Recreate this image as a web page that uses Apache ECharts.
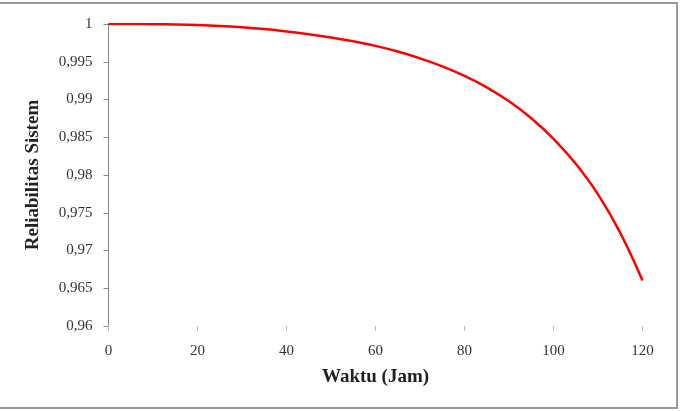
<!DOCTYPE html>
<html>
<head>
<meta charset="utf-8">
<script src="https://cdn.jsdelivr.net/npm/echarts@6/dist/echarts.min.js"></script>
<style>
  html, body { margin: 0; padding: 0; background: #fff; }
  #chart { width: 683px; height: 411px; }
</style>
</head>
<body>
<div id="chart"></div>
<script>
// waktu (jam) dan reliabilitas sistem
const waktu = [0, 5, 10, 15, 20, 25, 30, 35, 40, 45, 50, 55, 60, 65, 70, 75, 80, 85, 90, 95, 100, 105, 110, 115, 120];
const reliabilitas = [1.0, 0.999995, 0.99998, 0.99994, 0.99987, 0.99975, 0.99957, 0.99933, 0.99902, 0.99865, 0.99822, 0.99771, 0.9971,
  0.99635, 0.99545, 0.99439, 0.99313, 0.99161, 0.98976, 0.98751, 0.98479, 0.98149, 0.97744, 0.97234, 0.96604];
const xTicks = [0, 20, 40, 60, 80, 100, 120];
const yMin = 0.96, yMax = 1, yStep = 0.005;

const serif = 'Liberation Serif';

let chart = echarts.init(document.getElementById('chart'));
let option = {
  animation: false,
  backgroundColor: '#fff',
  grid: {
    left: 108.5,
    right: 40.5,
    top: 24,
    bottom: 85
  },
  xAxis: {
    type: 'value',
    min: xTicks[0],
    max: xTicks[xTicks.length - 1],
    interval: 20,
    name: 'Waktu (Jam)',
    nameLocation: 'middle',
    nameGap: 42,
    nameTextStyle: { fontFamily: serif, fontSize: 19, fontWeight: 'bold', color: '#222' },
    axisLine: { show: false },
    axisTick: { show: true, length: 5, lineStyle: { color: '#bbb' } },
    splitLine: { show: false },
    axisLabel: { fontFamily: serif, fontSize: 15, color: '#333', margin: 18 }
  },
  yAxis: {
    type: 'value',
    min: yMin,
    max: yMax,
    interval: yStep,
    name: 'Reliabilitas Sistem',
    nameLocation: 'middle',
    nameGap: 66,
    nameTextStyle: { fontFamily: serif, fontSize: 19, fontWeight: 'bold', color: '#222' },
    axisLine: { show: true, lineStyle: { color: '#888' } },
    axisTick: { show: true, length: 5, lineStyle: { color: '#888' } },
    splitLine: { show: false },
    axisLabel: {
      fontFamily: serif,
      fontSize: 15,
      color: '#333',
      margin: 16,
      formatter: function (v) {
        return String(+v.toFixed(3)).replace('.', ',');
      }
    }
  },
  series: [{
    type: 'line',
    data: waktu.map((t, i) => [t, reliabilitas[i]]),
    smooth: 0.4,
    showSymbol: false,
    lineStyle: { color: '#ff0000', width: 2.5 }
  }],
  graphic: [{
    type: 'polyline',
    shape: { points: [[0, 3], [677, 3], [677, 408], [0, 408]] },
    style: { stroke: '#999', lineWidth: 2, fill: null }
  }]
};
chart.setOption(option);
</script>
</body>
</html>
